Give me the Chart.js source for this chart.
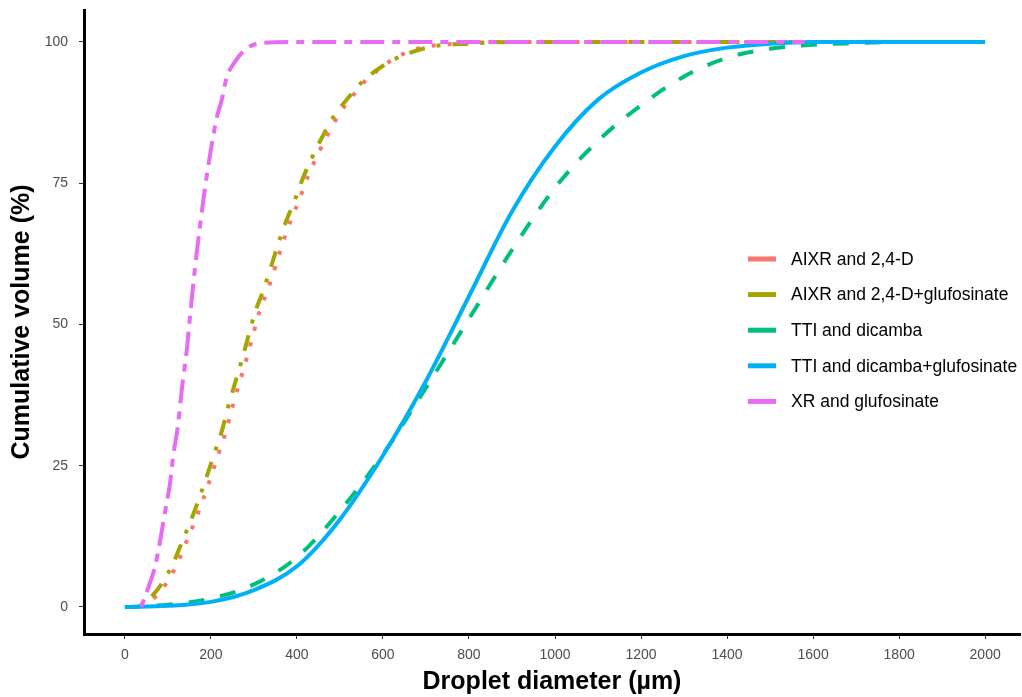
<!DOCTYPE html>
<html>
<head>
<meta charset="utf-8">
<script src="https://cdn.jsdelivr.net/npm/chart.js@4.4.1/dist/chart.umd.min.js"></script>
<style>
  html, body { margin: 0; padding: 0; background: #fff; }
  #wrap { width: 1022px; height: 697px; }
</style>
</head>
<body>
<div id="wrap"><canvas id="chart" width="1022" height="697"></canvas></div>
<script>
// Droplet size cumulative volume curves

const xTicks = [0, 200, 400, 600, 800, 1000, 1200, 1400, 1600, 1800, 2000]
const yTicks = [0, 25, 50, 75, 100]

const seriesNames = [
    'AIXR and 2,4-D',
    'AIXR and 2,4-D+glufosinate',
    'TTI and dicamba',
    'TTI and dicamba+glufosinate',
    'XR and glufosinate',
]
const seriesColors = ['#F8766D', '#A3A500', '#00BF7D', '#00B0F6', '#E76BF3']

// diameter (µm) / cumulative volume (%)
const aixrX = [35, 50, 75, 98, 122, 145, 166, 184, 203, 219, 236, 250, 266, 282, 296, 312, 332, 351, 367, 386, 405, 425, 448, 471, 497, 526, 556, 588, 623, 679, 798, 900, 1580]
const aixrY = [0, 0.7, 2.1, 4.4, 7.7, 11.9, 15.8, 19.5, 23.7, 27.4, 31.3, 35.4, 39.6, 43.7, 47.6, 52, 56.1, 60.5, 64.4, 68.5, 72, 76.1, 80, 83.5, 87.1, 90.1, 92.9, 95, 96.9, 98.8, 99.8, 100, 100]

const aixrGluX = [35, 42, 65, 88, 112, 135, 156, 174, 193, 209, 226, 240, 256, 272, 286, 302, 322, 341, 357, 376, 395, 415, 438, 461, 488, 519, 551, 585, 623, 709, 826, 900, 1580]
const aixrGluY = [0, 0.7, 2.1, 4.4, 7.7, 11.9, 15.8, 19.5, 23.7, 27.4, 31.3, 35.4, 39.6, 43.7, 47.6, 52, 56.1, 60.5, 64.4, 68.5, 72, 76.1, 80, 83.5, 87.1, 90.1, 92.9, 95, 96.8, 99.1, 99.8, 100, 100]

const ttiX = [0, 100, 200, 300, 400, 500, 600, 700, 800, 900, 1000, 1100, 1200, 1300, 1400, 1500, 1600, 1700, 1800, 2000]
const ttiY = [0, 0.4, 1.5, 4.0, 8.8, 17, 27, 38.8, 51, 63.2, 74.2, 82.5, 88.8, 93.9, 97.2, 98.8, 99.5, 99.8, 100, 100]

const ttiGluX = [0, 100, 200, 300, 400, 500, 600, 700, 800, 900, 1000, 1100, 1200, 1300, 1400, 1500, 1600, 2000]
const ttiGluY = [0, 0.2, 0.9, 3.0, 7.2, 15.5, 26.8, 40, 55, 70, 81.5, 89.8, 94.6, 97.5, 99.0, 99.7, 100, 100]

const xrX = [38, 58, 70, 81, 93, 105, 112, 123, 133, 144, 151, 163, 174, 186, 198, 214, 225, 237, 256, 279, 314, 400, 1580]
const xrY = [0, 4.2, 7.1, 11.3, 16.6, 21.9, 26.5, 31.9, 38.9, 45.5, 51, 60, 67, 74, 80, 86.7, 89.7, 93.8, 96.5, 98.6, 99.8, 100, 100]

const seriesX = [aixrX, aixrGluX, ttiX, ttiGluX, xrX]
const seriesY = [aixrY, aixrGluY, ttiY, ttiGluY, xrY]

// ggplot style line types: dotted, dotdash, dashed, solid, twodash
const dashes = [[4, 12], [4, 12, 16, 12], [16, 16], [], [8, 8, 24, 8]]

const font = "'Liberation Sans', Arial, sans-serif"

const datasets = seriesNames.map((name, i) => ({
    label: name,
    data: seriesX[i].map((x, j) => ({ x: x, y: seriesY[i][j] })),
    borderColor: seriesColors[i],
    backgroundColor: seriesColors[i],
    borderWidth: 4,
    borderDash: dashes[i],
    borderCapStyle: 'butt',
    pointRadius: 0,
    cubicInterpolationMode: 'monotone',
    fill: false,
    order: seriesNames.length - i,   // last series on top, like ggplot
}))

const insideLegend = {
    id: 'insideLegend',
    afterDatasetsDraw(chart) {
        const ctx = chart.ctx
        const x0 = 748
        const y0 = 259
        const step = 35.6
        ctx.save()
        seriesNames.forEach((name, i) => {
            const y = y0 + i * step
            ctx.strokeStyle = seriesColors[i]
            ctx.lineWidth = 5
            ctx.lineCap = 'butt'
            ctx.setLineDash([])
            ctx.beginPath()
            ctx.moveTo(x0, y)
            ctx.lineTo(x0 + 28, y)
            ctx.stroke()
            ctx.fillStyle = '#000'
            ctx.font = '17.5px ' + font
            ctx.textBaseline = 'middle'
            ctx.textAlign = 'left'
            ctx.fillText(name, x0 + 43, y + 1)
        })
        ctx.restore()
    }
}

// keep the plot panel exactly where the layout padding puts it
const noScalePadding = (scale) => {
    scale.paddingTop = 0
    scale.paddingBottom = 0
    scale.paddingLeft = 0
    scale.paddingRight = 0
}

new Chart(document.getElementById('chart'), {
    type: 'line',
    data: { datasets: datasets },
    plugins: [insideLegend],
    options: {
        responsive: false,
        animation: false,
        layout: { padding: { left: 0, right: 2, top: 10, bottom: 0 } },
        plugins: {
            legend: { display: false },
            tooltip: { enabled: false },
        },
        scales: {
            x: {
                type: 'linear',
                min: -95,
                max: 2081,
                afterBuildTicks: (scale) => { scale.ticks = xTicks.map(v => ({ value: v })) },
                afterFit: (scale) => { scale.height = 63; noScalePadding(scale) },
                grid: { display: true, drawOnChartArea: false, drawTicks: true, tickLength: 5, tickColor: '#333', tickWidth: 1 },
                border: { display: true, color: '#000', width: 3 },
                ticks: { color: '#4d4d4d', font: { family: font, size: 14 }, padding: 8, maxRotation: 0, autoSkip: false, callback: (v) => String(v) },
                title: {
                    display: true,
                    text: 'Droplet diameter (µm)',
                    color: '#000',
                    font: { family: font, size: 25, weight: 'bold' },
                    padding: { top: 0, bottom: 0 },
                },
            },
            y: {
                type: 'linear',
                min: -4.78,
                max: 105.66,
                afterBuildTicks: (scale) => { scale.ticks = yTicks.map(v => ({ value: v })) },
                afterFit: (scale) => { scale.width = 84; noScalePadding(scale) },
                grid: { display: true, drawOnChartArea: false, drawTicks: true, tickLength: 5, tickColor: '#333', tickWidth: 1 },
                border: { display: true, color: '#000', width: 3 },
                ticks: { color: '#4d4d4d', font: { family: font, size: 14 }, padding: 11, callback: (v) => String(v) },
                title: {
                    display: true,
                    text: 'Cumulative volume (%)',
                    color: '#000',
                    font: { family: font, size: 25, weight: 'bold' },
                    padding: { top: 7, bottom: 0 },
                },
            },
        },
    },
})
</script>
</body>
</html>
